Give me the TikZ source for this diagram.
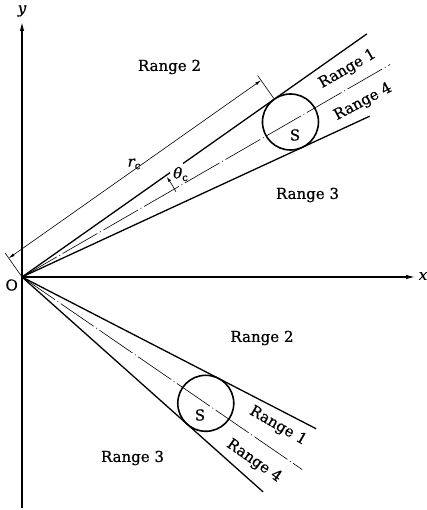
\documentclass[tikz,border=0pt]{standalone}
\usepackage{fontspec}
\setmainfont{DejaVu Serif}[BoldFont={DejaVu Serif},BoldFeatures={FakeBold=0.6},BoldItalicFont={DejaVu Serif Italic},BoldItalicFeatures={FakeBold=0.6}]
\usetikzlibrary{arrows.meta,calc}
\begin{document}
\begin{tikzpicture}[x=1pt,y=1pt,
  wedge/.style={line width=1.3pt},
  thinl/.style={line width=0.6pt},
  axis/.style={line width=1.2pt,-{Latex[length=9pt,width=4.5pt]}},
  ctr/.style={line width=0.6pt,dash pattern=on 40pt off 3pt on 1pt off 3pt},
  ball/.style={circle,draw,line width=1.6pt,minimum size=56pt,inner sep=0pt},
  lbl/.style={font=\fontsize{15}{18}\selectfont\bfseries,inner sep=0pt},
  dimarrow/.style={thinl,{Latex[length=6pt,width=3pt]}-{Latex[length=6pt,width=3pt]}},
]
\useasboundingbox (0,0) rectangle (427,510);
% axes
\coordinate (O) at (22,233);
\coordinate (ybot) at (22,2);
\coordinate (ytop) at (22,488);
\coordinate (xend) at (415,233);
\draw[axis] (ybot) -- (ytop);
\draw[axis] (O) -- (xend);
\node[lbl] (Olbl) at (11.7,225) {O};
\node[lbl] (ylbl) at (22,499) {\itshape y};
\node[lbl] (xlbl) at (423,234) {\itshape x};
% upper wedge
\coordinate (U1) at ($(O)+(35.18:422)$);
\coordinate (U2) at ($(O)+(24.82:383)$);
\coordinate (UC) at ($(O)+(30:425)$);
\coordinate (Ug1) at ($(O)+(35.18:181)$);
\coordinate (Ug2) at ($(O)+(35.18:197)$);
\draw[wedge] (O) -- (Ug1) (Ug2) -- (U1);
\draw[wedge] (O) -- (U2);
\draw[ctr] (O) -- (UC);
\node[ball] (S1) at ($(O)+(30:310)$) {};
\node[lbl] (S1lbl) at (295,375) {S};
% dimension r_c
\coordinate (T) at ($(O)+(35.18:308.7)$);
\coordinate (E1a) at ($(O)+(125.18:2)$);
\coordinate (E1b) at ($(O)+(125.18:29)$);
\coordinate (E2a) at ($(T)+(125.18:1)$);
\coordinate (E2b) at ($(T)+(125.18:29)$);
\coordinate (D1) at ($(O)+(125.18:23)$);
\coordinate (D2) at ($(T)+(125.18:23)$);
\draw[thinl] (E1a) -- (E1b);
\draw[thinl] (E2a) -- (E2b);
\draw[dimarrow] (D1) -- (D2);
\node[lbl] (rc) at (134,346) {\itshape r\raisebox{-2.5pt}{\fontsize{10}{10}\selectfont\upshape c}};
% theta_c
\coordinate (A1) at ($(O)+(29:176)$);
\draw[thinl,-{Latex[length=5pt,width=3pt]}] (A1) arc[start angle=29, end angle=34.6, radius=176];
\node[lbl,anchor=west] (thc) at (173,336) {\itshape θ\raisebox{-2.5pt}{\fontsize{10}{10}\selectfont\upshape c}};
% upper labels
\node[lbl] (r2u) at (169.5,443) {Range 2};
\node[lbl,rotate=30] (r1u) at (347.5,441) {Range 1};
\node[lbl,rotate=28] (r4u) at (363,408) {Range 4};
\node[lbl] (r3u) at (307.5,315) {Range 3};
% lower wedge
\coordinate (L1) at ($(O)+(-27.29:331)$);
\coordinate (L2) at ($(O)+(-41.71:323)$);
\coordinate (LC) at ($(O)+(-34.5:340)$);
\draw[wedge] (O) -- (L1);
\draw[wedge] (O) -- (L2);
\draw[ctr] (O) -- (LC);
\node[ball] (S2) at ($(O)+(-34.5:223)$) {};
\node[lbl] (S2lbl) at (200,95) {S};
\node[lbl] (r2l) at (262,172) {Range 2};
\node[lbl,rotate=-30] (r1l) at (278,84) {Range 1};
\node[lbl,rotate=-35] (r4l) at (254,49) {Range 4};
\node[lbl] (r3l) at (132.5,52) {Range 3};
\end{tikzpicture}
\end{document}
